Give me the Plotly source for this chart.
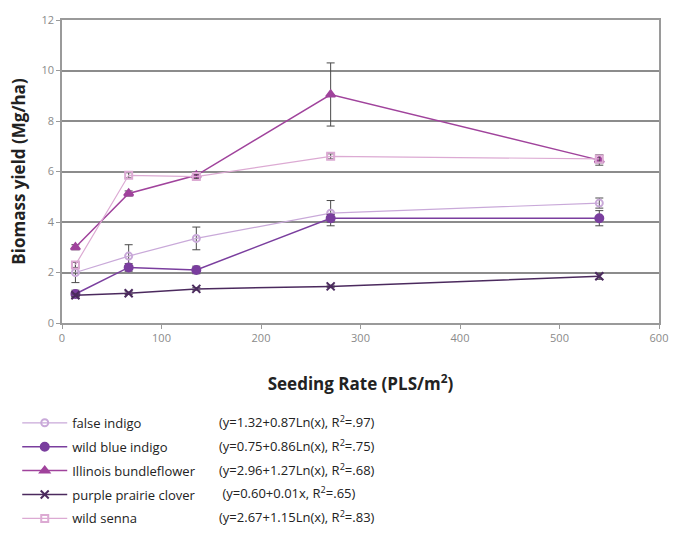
import plotly.graph_objects as go

seeding_rate = [13.5, 67, 135, 270, 540]

species = ["false indigo", "wild blue indigo", "Illinois bundleflower",
           "purple prairie clover", "wild senna"]
equations = ["(y=1.32+0.87Ln(x), R<sup>2</sup>=.97)",
             "(y=0.75+0.86Ln(x), R<sup>2</sup>=.75)",
             "(y=2.96+1.27Ln(x), R<sup>2</sup>=.68)",
             " (y=0.60+0.01x, R<sup>2</sup>=.65)",
             "(y=2.67+1.15Ln(x), R<sup>2</sup>=.83)"]

false_indigo = [2.0, 2.65, 3.35, 4.35, 4.75]
false_indigo_err = [0.4, 0.45, 0.45, 0.5, 0.2]
wild_blue_indigo = [1.15, 2.2, 2.1, 4.15, 4.15]
wild_blue_indigo_err = [0.15, 0.15, 0.15, 0.15, 0.3]
illinois_bundleflower = [3.0, 5.13, 5.85, 9.05, 6.45]
illinois_bundleflower_err = [0.1, 0.1, 0.12, 1.25, 0.2]
purple_prairie_clover = [1.1, 1.18, 1.35, 1.45, 1.85]
purple_prairie_clover_err = [0.05, 0.05, 0.05, 0.05, 0.12]
wild_senna = [2.3, 5.85, 5.8, 6.6, 6.5]
wild_senna_err = [0.1, 0.1, 0.1, 0.1, 0.15]

series = [false_indigo, wild_blue_indigo, illinois_bundleflower,
          purple_prairie_clover, wild_senna]
errors = [false_indigo_err, wild_blue_indigo_err, illinois_bundleflower_err,
          purple_prairie_clover_err, wild_senna_err]
colors = ["#c9a9d9", "#7a3e9e", "#a0439c", "#4b2a5e", "#dcaad3"]
symbols = ["circle-open", "circle", "triangle-up", "x-thin-open", "square-open"]
msizes = [7, 8, 8, 8, 7]
lwidths = [1.2, 1.5, 1.5, 1.5, 1.2]

FONT = "Open Sans"

fig = go.Figure()
for name, y, err, c, s, ms, lw in zip(species, series, errors, colors, symbols, msizes, lwidths):
    fig.add_trace(go.Scatter(
        x=seeding_rate, y=y, name=name, mode="lines+markers",
        line=dict(color=c, width=lw),
        marker=dict(symbol=s, size=ms, color=c, line=dict(color=c, width=2)),
        error_y=dict(type="data", array=err, visible=True, color="#4a4a4a",
                     thickness=1, width=4),
        legendgroup=name,
    ))

fig.update_layout(
    width=680, height=548,
    margin=dict(l=62, r=17, t=16, b=225),
    paper_bgcolor="white", plot_bgcolor="white",
    font=dict(family=FONT, color="#222"),
    showlegend=True,
    legend=dict(
        x=-0.075, y=-0.28, xanchor="left", yanchor="top",
        font=dict(size=13, family=FONT, color="#222"),
        traceorder="grouped", tracegroupgap=4,
        itemwidth=45,
        bgcolor="rgba(0,0,0,0)",
    ),
    xaxis=dict(
        range=[0, 600], dtick=100, tick0=0,
        showgrid=False, zeroline=False,
        showline=True, linecolor="#9a9a9a", linewidth=1.5, mirror=True,
        ticks="outside", ticklen=4, tickcolor="#9a9a9a",
        tickfont=dict(size=11, color="#8a8a8a", family=FONT),
        title=dict(text="<b>Seeding Rate (PLS/m<sup>2</sup>)</b>",
                   font=dict(size=17, family=FONT, color="#222"), standoff=34),
    ),
    yaxis=dict(
        range=[0, 12], dtick=2, tick0=0,
        showgrid=True, gridcolor="#8c8c8c", gridwidth=1.5,
        zeroline=False,
        showline=True, linecolor="#9a9a9a", linewidth=1.5, mirror=True,
        ticks="outside", ticklen=4, tickcolor="#9a9a9a",
        tickfont=dict(size=11, color="#8a8a8a", family=FONT),
        title=dict(text="<b>Biomass yield (Mg/ha)</b>",
                   font=dict(size=17, family=FONT, color="#222"), standoff=12),
    ),
)

row_y = [423, 447, 471, 495, 519]
for eq, py in zip(equations, row_y):
    fig.add_annotation(
        xref="paper", yref="paper",
        x=(218 - 62) / 601, y=(323 - py) / 307,
        xanchor="left", yanchor="middle", showarrow=False,
        text=eq, font=dict(size=13, family=FONT, color="#222"),
    )

fig.write_html("out.html")
